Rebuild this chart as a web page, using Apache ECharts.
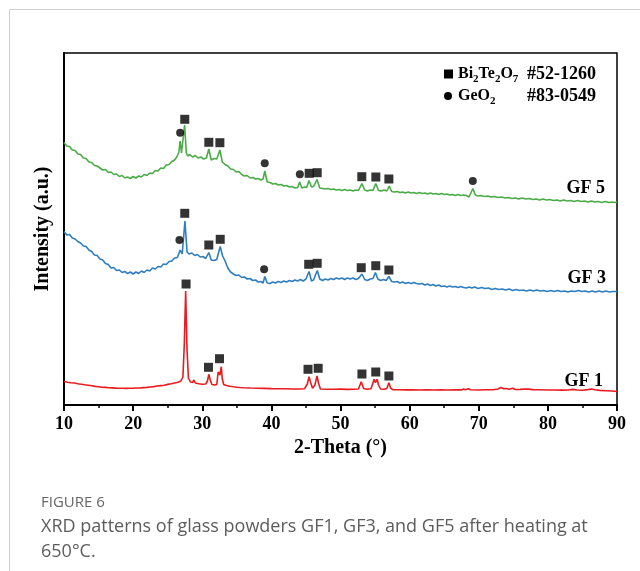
<!DOCTYPE html>
<html>
<head>
<meta charset="utf-8">
<script src="https://cdn.jsdelivr.net/npm/echarts@6/dist/echarts.min.js"></script>
<style>
html, body { margin: 0; padding: 0; background: #fff; }
#chart { width: 640px; height: 571px; }
</style>
</head>
<body>
<div id="chart"></div>
<script>
// 2-Theta (deg) / intensity (a.u., curves are offset vertically like the figure)
const gf5 = [
  [10.0,262.5],[10.4,259],[10.8,258.5],[11.2,255],[11.6,254.5],[12.0,251],[12.4,250.5],[12.8,247],[13.2,246.5],[13.6,243],
  [14.0,242.5],[14.4,239.5],[14.8,239],[15.2,237],[15.6,235],[16.0,235.5],[16.4,232.5],[16.8,233],[17.2,230.5],[17.6,231],
  [18.0,228.5],[18.4,229.5],[18.8,227],[19.2,228],[19.6,226.5],[20.0,228.5],[20.4,227],[20.8,229],[21.2,228],[21.6,230.5],
  [22.0,229.5],[22.4,232],[22.8,231.5],[23.2,234.5],[23.6,234],[24.0,237],[24.4,236.5],[24.8,240],[25.2,240.5],[25.6,243.5],
  [26.0,245],[26.3,248],[26.6,252],[26.8,264],[27.0,252],[27.2,254],[27.45,280],[27.7,252],[27.9,249],[28.2,250.5],
  [28.6,248],[29.0,249.5],[29.4,247],[29.8,248],[30.2,246],[30.6,247],[30.95,256],[31.3,245],[31.7,246.5],[32.1,246],
  [32.55,255],[32.9,243],[33.3,240.5],[33.7,239],[34.1,236],[34.5,235.5],[34.9,233],[35.3,233.5],[35.7,230.5],[36.1,229],
  [36.5,229.5],[36.9,227],[37.3,227.5],[37.7,226],[38.1,226.5],[38.5,225],[38.8,226],[39.05,234],[39.4,223],[39.8,222.5],
  [40.2,221],[40.6,221.5],[41.0,220],[41.4,220.5],[41.8,219],[42.2,219.5],[42.6,218],[43.0,218.5],[43.4,217],[43.8,217.5],
  [44.1,223],[44.4,217],[44.8,218],[45.1,217.5],[45.45,224.5],[45.8,218],[46.1,218.5],[46.6,225.5],[47.0,217],[47.4,216.5],
  [47.8,216],[48.2,216.5],[48.6,215.5],[49.0,216],[49.4,215],[49.8,215.5],[50.2,214.5],[50.6,215.5],[51.0,214.5],[51.4,215],
  [51.8,214],[52.2,215],[52.6,214.5],[53.1,221.5],[53.5,215],[53.9,214],[54.3,215],[54.7,214.5],[55.1,221.5],[55.5,214.5],
  [55.9,214],[56.3,215],[56.7,214],[57.05,219],[57.4,213.5],[57.8,213],[58.2,213.5],[58.6,212.5],[59.0,213],[59.4,212],
  [59.8,213],[60.2,212],[60.6,212.5],[61.0,211.5],[61.4,212.5],[61.8,211.5],[62.2,212],[62.6,211],[63.0,212],[63.4,211],
  [63.8,211.5],[64.2,210.5],[64.6,211.5],[65.0,210.5],[65.4,211],[65.8,210],[66.2,210.5],[66.6,209.5],[67.0,210.5],[67.4,209.5],
  [67.8,210],[68.2,209.5],[68.6,208],[68.8,208.5],[69.15,216.5],[69.5,210],[69.9,209],[70.3,209.5],[70.8,208.5],[71.3,209],
  [71.8,208],[72.3,208.5],[72.8,207.5],[73.3,208],[73.8,207],[74.3,207.5],[74.8,206.5],[75.3,207],[75.8,206],[76.3,207],
  [76.8,206],[77.3,206.5],[77.8,205.5],[78.3,206],[78.8,205],[79.3,206],[79.8,205],[80.3,205.5],[80.8,204.5],[81.3,205],
  [81.8,204],[82.3,205],[82.8,204],[83.3,204.5],[83.8,203.5],[84.3,204.5],[84.8,203.5],[85.3,204],[85.8,203],[86.3,204],
  [86.8,203],[87.3,203.5],[87.8,202.5],[88.3,203.5],[88.8,202.5],[89.3,203],[89.7,202.5],[90.0,203]
];

const gf3 = [
  [10.0,173.5],[10.4,170],[10.8,170.5],[11.2,167],[11.6,166],[12.0,163.5],[12.4,162],[12.8,159],[13.2,158.5],[13.6,155],
  [14.0,153.5],[14.4,150],[14.8,149.5],[15.2,146],[15.6,145],[16.0,141.5],[16.4,140.5],[16.8,137],[17.2,137.5],[17.6,134.5],
  [18.0,135],[18.4,132.5],[18.8,133.5],[19.2,131.5],[19.6,133],[20.0,131],[20.4,133],[20.8,131.5],[21.2,134],[21.6,132.5],
  [22.0,135],[22.4,134],[22.8,137],[23.2,136],[23.6,138.5],[24.0,138],[24.4,141],[24.8,140.5],[25.2,143.5],[25.6,144],
  [26.0,147],[26.4,147.5],[26.8,155],[27.1,151],[27.5,184],[27.8,153],[28.1,151],[28.5,152],[28.9,149.5],[29.3,150.5],
  [29.7,148],[30.1,148.5],[30.5,146.5],[30.95,152.5],[31.3,145],[31.7,144.5],[32.1,145.5],[32.6,158.5],[32.95,149],[33.3,144],
  [33.7,137],[34.1,133],[34.5,131],[34.9,129.5],[35.3,130],[35.7,127.5],[36.1,128],[36.5,126],[36.9,126.5],[37.3,124.5],
  [37.7,125],[38.1,123],[38.5,123.5],[38.8,122],[39.05,128.5],[39.4,122],[39.8,121.5],[40.2,123],[40.6,122],[41.0,123.5],
  [41.4,122.5],[41.8,124],[42.2,123],[42.6,124.5],[43.0,123.5],[43.4,125],[43.8,124],[44.2,125.5],[44.6,124],[45.0,126],
  [45.45,133.5],[45.8,124],[46.1,125],[46.3,127],[46.65,134.5],[47.0,126],[47.4,124.5],[47.8,126],[48.2,125],[48.6,126.5],
  [49.0,125.5],[49.4,127],[49.8,126],[50.2,127],[50.6,125.5],[51.0,127],[51.4,126],[51.8,127],[52.2,125.5],[52.6,126.5],
  [53.1,131],[53.5,125.5],[53.9,124.5],[54.3,126],[54.7,126.5],[55.05,132.5],[55.4,126],[55.8,124.5],[56.2,125.5],[56.6,124.5],
  [57.0,128.5],[57.4,123.5],[57.8,123],[58.2,123.5],[58.6,122],[59.0,123],[59.4,121.5],[59.8,122.5],[60.2,121.5],[60.6,122.5],
  [61.0,121.5],[61.4,121],[61.8,121.5],[62.2,120],[62.6,121],[63.0,119.5],[63.4,120.5],[63.8,119],[64.2,120],[64.6,118.5],
  [65.0,119],[65.4,118],[65.8,119],[66.2,118],[66.6,118.5],[67.0,117.5],[67.4,118.5],[67.8,117.5],[68.2,117],[68.6,118],
  [69.0,117],[69.4,118],[69.9,116.5],[70.4,117.5],[70.9,116.5],[71.4,117],[71.9,115.5],[72.4,116.5],[72.9,115.5],[73.4,116],
  [73.9,115],[74.4,116],[74.9,114.5],[75.4,115.5],[75.9,114.5],[76.4,115],[76.9,114],[77.4,115],[77.9,114],[78.4,115],
  [78.9,114],[79.4,114.5],[79.9,113.5],[80.4,114.5],[80.9,113.5],[81.4,114.5],[81.9,113.5],[82.4,114],[82.9,113],[83.4,114],
  [83.9,113.5],[84.4,114.5],[84.9,113.5],[85.4,114],[85.9,113],[86.4,114],[86.9,113],[87.4,114],[87.9,113],[88.4,114],
  [88.9,113],[89.4,113.5],[90.0,113.5]
];

const gf1 = [
  [10.0,23.5],[10.5,22.8],[11.0,22.3],[11.5,22],[12.0,21.2],[12.5,20.8],[13.0,20.2],[13.5,19.8],[14.0,19.2],[14.5,18.6],
  [15.0,18.3],[15.5,17.8],[16.0,17.6],[16.5,17.3],[17.0,17.1],[17.5,16.9],[18.0,16.8],[18.5,16.7],[19.0,16.6],[19.5,16.8],
  [20.0,16.7],[20.5,17],[21.0,17],[21.5,17.4],[22.0,17.6],[22.5,18],[23.0,18.4],[23.5,19],[24.0,19.4],[24.5,19.8],
  [25.0,20.6],[25.5,21.2],[26.0,22],[26.5,22.8],[26.9,24],[27.2,28],[27.4,60],[27.6,114],[27.8,55],[28.0,27],
  [28.3,23],[28.6,22.5],[28.8,25],[29.0,22],[29.5,21.3],[30.0,20.8],[30.5,21],[30.75,24],[30.95,30.7],[31.15,25],
  [31.4,20.5],[31.8,20],[32.1,20.5],[32.3,33],[32.4,35],[32.55,30],[32.75,38.3],[32.9,26],[33.1,20.5],[33.5,19.5],
  [34.0,18.8],[34.5,18.2],[35.0,17.8],[35.5,17.5],[36.0,17.3],[37.0,17],[38.0,16.8],[39.0,16.6],[40.0,16.4],[41.0,16.3],
  [42.0,16.2],[43.0,16],[44.0,16],[44.8,16.3],[45.2,21],[45.45,28.3],[45.7,22],[45.95,16.8],[46.3,20],[46.6,29],
  [46.85,21],[47.1,16],[48.0,15.8],[49.0,15.7],[50.0,15.9],[51.0,15.6],[52.0,15.8],[52.6,16],[53.0,23.3],[53.35,16.5],
  [53.8,15.8],[54.4,16.2],[54.7,22],[54.85,25.7],[55.05,22.3],[55.3,25.7],[55.5,20],[55.8,16],[56.3,15.7],[56.7,16.5],
  [57.0,22.3],[57.25,17],[57.6,15.2],[58.5,15.3],[59.5,15.1],[60.5,15.3],[61.5,15],[62.5,15.2],[63.5,15],[64.5,15.1],
  [65.5,15],[66.5,15.2],[67.5,15.1],[67.8,16],[68.1,15.2],[68.5,16.3],[68.8,15.2],[70.0,15],[71.0,15.2],[72.0,15.3],
  [72.8,16],[73.2,17.5],[73.6,16.2],[74.0,16.5],[74.4,15.8],[74.9,16.8],[75.3,15.5],[76.0,15.6],[76.7,16],[77.2,15.9],
  [77.8,15.4],[79.0,15.2],[80.0,15],[81.0,15],[82.0,14.9],[83.0,15],[83.6,15.6],[84.2,15],[85.0,14.8],[85.8,15.4],
  [86.3,16],[86.8,15.2],[87.5,14.6],[88.5,14.3],[89.3,14],[90.0,13.5]
];

// phase markers ■ Bi2Te2O7, ● GeO2
const bi2te2o7Marks = [
  [27.47,285.7],[30.95,262.7],[32.55,262.3],[45.47,231.7],[46.63,232.3],[53.08,228.3],[55.11,228],[57.0,226],
  [27.47,191.7],[30.95,160],[32.6,165.7],[45.4,140.7],[46.63,141.7],[53.0,137.3],[55.1,139.3],[57.0,135],
  [27.66,121],[30.9,37.7],[32.5,46.3],[45.3,35.7],[46.77,36.7],[53.1,31],[55.1,33],[57.0,29]
];
const geo2Marks = [
  [26.8,272.3],[39.04,241.7],[44.12,230.7],[69.14,224],
  [26.7,165],[38.95,135.7]
];

const serif = "'Liberation Serif', 'Times New Roman', serif";
const sans = "'Open Sans', 'Noto Sans', sans-serif";
const boldText = { fontFamily: serif, fontWeight: 'bold', color: '#000' };

const chart = echarts.init(document.getElementById('chart'));

const lineSeries = (name, data, color) => ({
  name: name,
  type: 'line',
  data: data,
  symbol: 'none',
  lineStyle: { color: color, width: 1.6 },
  z: 2
});

// 化学式: 逐段排字, 下标单独缩小下移
const measure = document.createElement('canvas').getContext('2d');
function formula (x, y, parts) {
  const out = [];
  let cx = x;
  parts.forEach(p => {
    const isSub = /^\d$/.test(p);
    const font = 'bold ' + (isSub ? 11 : 16) + 'px ' + serif;
    measure.font = font;
    out.push({ type: 'text', x: cx, y: y + (isSub ? 5 : 0),
      style: { text: p, font: font, fill: '#000', verticalAlign: 'middle' } });
    cx += measure.measureText(p).width;
  });
  return out;
}

const boldLabel = (x, y, text, align) => ({
  type: 'text', x: x, y: y,
  style: { text: text, font: 'bold 18px ' + serif, fill: '#000', align: align || 'left', verticalAlign: 'middle' }
});

chart.setOption({
  animation: false,
  backgroundColor: '#fff',
  grid: { left: 64, right: 23, top: 53, bottom: 166, show: true, borderColor: '#000', borderWidth: 1.5 },
  xAxis: {
    type: 'value', min: 10, max: 90, interval: 10,
    name: '2-Theta (°)', nameLocation: 'middle', nameGap: 33,
    nameTextStyle: Object.assign({ fontSize: 20 }, boldText),
    axisLine: { lineStyle: { color: '#000', width: 2 } },
    axisTick: { length: 6, lineStyle: { color: '#000', width: 2 } },
    minorTick: { show: true, splitNumber: 2, length: 3, lineStyle: { color: '#000', width: 1.5 } },
    axisLabel: Object.assign({ fontSize: 18, margin: 10 }, boldText),
    splitLine: { show: false }
  },
  yAxis: {
    type: 'value', min: 0, max: 352,
    name: 'Intensity (a.u.)', nameLocation: 'middle', nameGap: 11,
    nameTextStyle: Object.assign({ fontSize: 20 }, boldText),
    axisLine: { show: true, lineStyle: { color: '#000', width: 2 } },
    axisTick: { show: false },
    axisLabel: { show: false },
    splitLine: { show: false }
  },
  series: [
    lineSeries('GF 5', gf5, '#4aac47'),
    lineSeries('GF 3', gf3, '#2f7ec1'),
    lineSeries('GF 1', gf1, '#ea1a1f'),
    { name: 'Bi2Te2O7', type: 'scatter', data: bi2te2o7Marks, symbol: 'rect', symbolSize: 9,
      itemStyle: { color: '#000' }, z: 5 },
    { name: 'GeO2', type: 'scatter', data: geo2Marks, symbol: 'circle', symbolSize: 8,
      itemStyle: { color: '#000' }, z: 5 }
  ],
  graphic: [
    // card frame
    { type: 'polyline', silent: true, shape: { points: [[9.5, 571], [9.5, 9.5], [640, 9.5]] },
      style: { stroke: '#cfcfcf', lineWidth: 1, fill: null } },
    // legend
    { type: 'rect', shape: { x: 444, y: 69.5, width: 9, height: 9 }, style: { fill: '#000' } },
    ...formula(458, 74, ['Bi', '2', 'Te', '2', 'O', '7']),
    boldLabel(527, 74, '#52-1260'),
    { type: 'circle', shape: { cx: 448, cy: 96, r: 4 }, style: { fill: '#000' } },
    ...formula(458, 96, ['GeO', '2']),
    boldLabel(527, 96, '#83-0549'),
    // sample labels
    boldLabel(605, 188, 'GF 5', 'right'),
    boldLabel(606, 278, 'GF 3', 'right'),
    boldLabel(603, 381, 'GF 1', 'right'),
    // caption
    { type: 'text', x: 41, y: 503, style: { text: 'FIGURE 6', font: '15px ' + sans, fill: '#666', verticalAlign: 'middle' } },
    { type: 'text', x: 41, y: 527, style: { text: 'XRD patterns of glass powders GF1, GF3, and GF5 after heating at', font: '18px ' + sans, fill: '#5c5c5c', verticalAlign: 'middle' } },
    { type: 'text', x: 41, y: 552, style: { text: '650°C.', font: '18px ' + sans, fill: '#5c5c5c', verticalAlign: 'middle' } }
  ]
});
</script>
</body>
</html>
